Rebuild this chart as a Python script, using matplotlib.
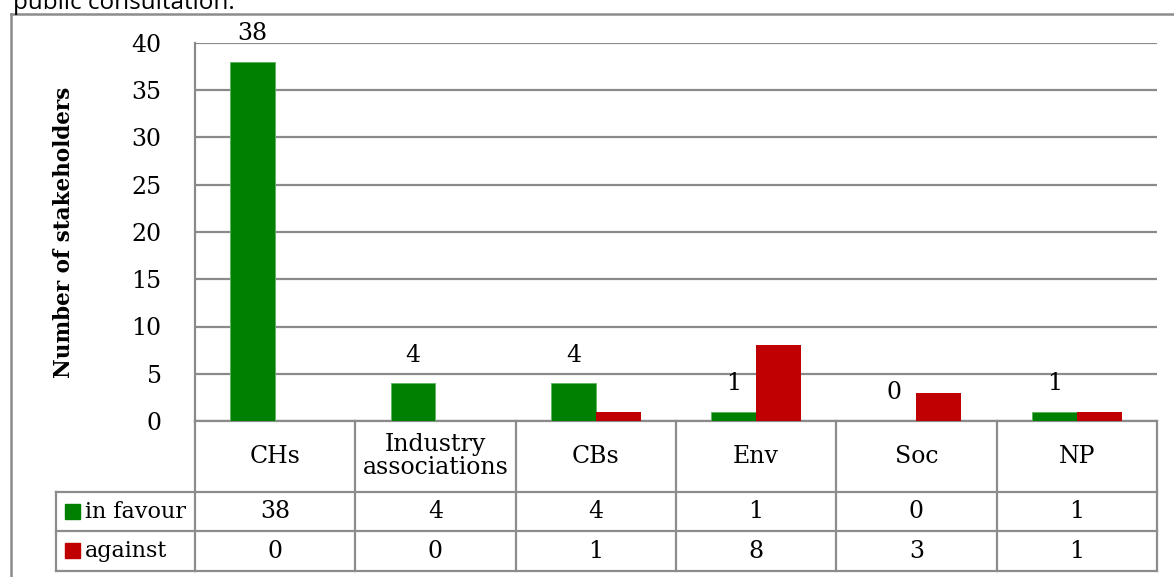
import matplotlib
matplotlib.use("Agg")
import matplotlib.pyplot as plt
import numpy as np
from matplotlib.transforms import blended_transform_factory
from matplotlib.lines import Line2D
from matplotlib.patches import Rectangle

categories = ["CHs", "Industry\nassociations", "CBs", "Env", "Soc", "NP"]
in_favour = [38, 4, 4, 1, 0, 1]
against = [0, 0, 1, 8, 3, 1]
series_names = ["in favour", "against"]
series_colors = ["#008000", "#C00000"]
yticks = [0, 5, 10, 15, 20, 25, 30, 35, 40]
ylabel = "Number of stakeholders"
caption = "public consultation."

W, H = 1174, 577
FONT = "DejaVu Serif"
FS = 17
GRID = "#8a8a8a"

fig = plt.figure(figsize=(W / 100, H / 100), dpi=100)

def fx(px):
    return px / W

def fy(py):
    return 1 - py / H

ax = fig.add_axes([fx(195), fy(421), fx(1157) - fx(195), fy(43) - fy(421)])

x = np.arange(len(categories))
w = 0.28
ax.bar(x - w / 2, in_favour, w, color=series_colors[0], edgecolor="#5fb35f", linewidth=0.6, zorder=3)
ax.bar(x + w / 2, against, w, color=series_colors[1], zorder=3)

for xi, v in zip(x, in_favour):
    ax.annotate(str(v), (xi - w / 2, v), xytext=(0, 12), textcoords="offset points",
                ha="center", va="bottom", fontsize=FS, family=FONT, zorder=4)

ax.set_xlim(-0.5, len(categories) - 0.5)
ax.set_ylim(0, 40)
ax.set_yticks(yticks)
ax.set_yticklabels([str(t) for t in yticks], fontsize=FS, family=FONT)
ax.tick_params(axis="y", length=0, pad=24)
ax.set_xticks([])
ax.yaxis.grid(True, color=GRID, linewidth=1.6, zorder=0)
ax.set_axisbelow(True)
for s in ["top", "right"]:
    ax.spines[s].set_visible(False)
for s in ["left", "bottom"]:
    ax.spines[s].set_color(GRID)
    ax.spines[s].set_linewidth(1.6)

fig.text(fx(64), fy(232), ylabel, rotation=90, ha="center", va="center",
         fontsize=15.5, family=FONT, fontweight="bold")

# data table
bt = blended_transform_factory(ax.transData, fig.transFigure)
lc = "#8c8c8c"
lw = 1.6
y_head_top, y_r1, y_r2, y_bot = 421, 492, 531, 571
n = len(categories)
for i in range(n + 1):
    xb = i - 0.5
    ax.add_line(Line2D([xb, xb], [fy(y_head_top), fy(y_bot)], transform=bt, color=lc, lw=lw, clip_on=False))
for yy in [y_r1, y_r2, y_bot]:
    fig.add_artist(Line2D([fx(56), fx(195)], [fy(yy), fy(yy)], color=lc, lw=lw))
    ax.add_line(Line2D([-0.5, n - 0.5], [fy(yy), fy(yy)], transform=bt, color=lc, lw=lw, clip_on=False))
fig.add_artist(Line2D([fx(56), fx(56)], [fy(y_r1), fy(y_bot)], color=lc, lw=lw))

for i, c in enumerate(categories):
    ax.text(i, fy((y_head_top + y_r1) / 2), c, transform=bt, ha="center", va="center",
            fontsize=FS, family=FONT, linespacing=1.0)
    ax.text(i, fy((y_r1 + y_r2) / 2), str(in_favour[i]), transform=bt, ha="center", va="center",
            fontsize=FS, family=FONT)
    ax.text(i, fy((y_r2 + y_bot) / 2), str(against[i]), transform=bt, ha="center", va="center",
            fontsize=FS, family=FONT)

for k, (name, col) in enumerate(zip(series_names, series_colors)):
    yc = (y_r1 + y_r2) / 2 if k == 0 else (y_r2 + y_bot) / 2
    fig.add_artist(Rectangle((fx(65), fy(yc + 7)), fx(15), fy(0) - fy(15), color=col,
                             transform=fig.transFigure))
    fig.text(fx(85), fy(yc), name, ha="left", va="center", fontsize=16, family=FONT)

# outer frame
fig.add_artist(Line2D([fx(11), fx(11)], [fy(14), 0], color=lc, lw=1.8))
fig.add_artist(Line2D([fx(11), 1], [fy(14), fy(14)], color=lc, lw=1.8))

fig.text(fx(13), fy(9), caption, ha="left", va="baseline", fontsize=17.5, family="Open Sans")

fig.savefig("out.png", dpi=100)
